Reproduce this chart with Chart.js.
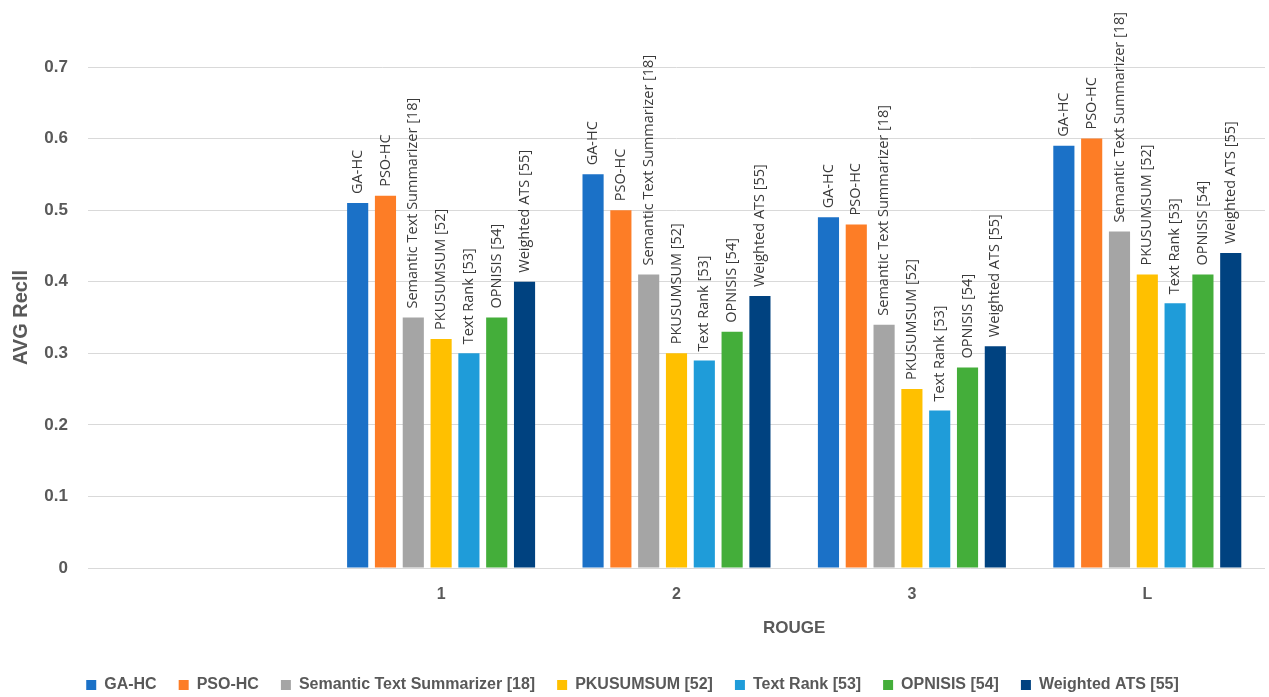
<!DOCTYPE html>
<html>
<head>
<meta charset="utf-8">
<title>AVG Recall by ROUGE</title>
<script src="https://cdn.jsdelivr.net/npm/chart.js@4.4.1/dist/chart.umd.min.js"></script>
<style>
    html, body { margin: 0; padding: 0; background: #ffffff; }
    #wrap { width: 1269px; height: 697px; }
</style>
</head>
<body>
<div id="wrap"><canvas id="recallChart" width="1269" height="697"></canvas></div>
<script>
// ROUGE variants (first slot is left empty on purpose)
const rougeLabels = ['', '1', '2', '3', 'L'];

const seriesNames = [
    'GA-HC',
    'PSO-HC',
    'Semantic Text Summarizer [18]',
    'PKUSUMSUM [52]',
    'Text Rank [53]',
    'OPNISIS [54]',
    'Weighted ATS [55]'
];

const gaHc       = [null, 0.51, 0.55, 0.49, 0.59];
const psoHc      = [null, 0.52, 0.50, 0.48, 0.60];
const semantic   = [null, 0.35, 0.41, 0.34, 0.47];
const pkusumsum  = [null, 0.32, 0.30, 0.25, 0.41];
const textRank   = [null, 0.30, 0.29, 0.22, 0.37];
const opnisis    = [null, 0.35, 0.33, 0.28, 0.41];
const weighted   = [null, 0.40, 0.38, 0.31, 0.44];

const yTicks = [0, 0.1, 0.2, 0.3, 0.4, 0.5, 0.6, 0.7];

const seriesValues = [gaHc, psoHc, semantic, pkusumsum, textRank, opnisis, weighted];
const seriesColors = ['#1B71C7', '#FD7D26', '#A5A5A5', '#FFC000', '#1F9CD9', '#44AE3A', '#004280'];

const axisGrey = '#595959';
const fontFamily = '"Liberation Sans", Arial, sans-serif';

// vertical series name above every bar
const barNamePlugin = {
    id: 'barNames',
    afterDatasetsDraw(chart) {
        const ctx = chart.ctx;
        ctx.save();
        ctx.font = '14.5px "Open Sans", sans-serif';
        ctx.fillStyle = '#3a3a3a';
        ctx.textAlign = 'left';
        ctx.textBaseline = 'middle';
        chart.data.datasets.forEach((ds, i) => {
            const meta = chart.getDatasetMeta(i);
            meta.data.forEach((bar, j) => {
                if (ds.data[j] === null) return;
                ctx.save();
                ctx.translate(bar.x, bar.y - 9);
                ctx.rotate(-Math.PI / 2);
                ctx.fillText(ds.label, 0, 0);
                ctx.restore();
            });
        });
        ctx.restore();
    }
};

// x axis title, centred under the filled categories only
const xTitlePlugin = {
    id: 'xTitle',
    afterDraw(chart) {
        const x = chart.scales.x;
        const first = x.getPixelForValue(1);
        const last = x.getPixelForValue(rougeLabels.length - 1);
        const ctx = chart.ctx;
        ctx.save();
        ctx.font = 'bold 17px ' + fontFamily;
        ctx.fillStyle = axisGrey;
        ctx.textAlign = 'center';
        ctx.textBaseline = 'middle';
        ctx.fillText('ROUGE', (first + last) / 2, x.bottom - 27);
        ctx.restore();
    }
};

const datasets = seriesNames.map((name, i) => ({
    label: name,
    data: seriesValues[i],
    backgroundColor: seriesColors[i],
    borderWidth: 0,
    barPercentage: 0.76,
    categoryPercentage: 0.827
}));

const ctx = document.getElementById('recallChart').getContext('2d');
const recallChart = new Chart(ctx, {
    type: 'bar',
    data: { labels: rougeLabels, datasets: datasets },
    plugins: [barNamePlugin, xTitlePlugin],
    options: {
        responsive: false,
        animation: false,
        layout: { padding: { top: 67, right: 4, left: 0, bottom: -6 } },
        plugins: {
            tooltip: { enabled: false },
            legend: {
                position: 'bottom',
                labels: {
                    boxWidth: 10,
                    boxHeight: 10,
                    padding: 22,
                    color: axisGrey,
                    font: { family: fontFamily, size: 16, weight: 'bold' }
                }
            }
        },
        scales: {
            x: {
                grid: { display: false, drawTicks: false },
                border: { display: false },
                ticks: {
                    color: axisGrey,
                    padding: 17,
                    font: { family: fontFamily, size: 16, weight: 'bold' }
                },
                afterFit(scale) { scale.height = 87; }
            },
            y: {
                min: 0,
                max: 0.7,
                afterBuildTicks(scale) {
                    scale.ticks = yTicks.map(v => ({ value: v }));
                },
                grid: { color: '#D9D9D9', lineWidth: 1, drawTicks: false },
                border: { display: false },
                ticks: {
                    color: axisGrey,
                    padding: 20,
                    font: { family: fontFamily, size: 17, weight: 'bold' },
                    callback: v => String(v)
                },
                title: {
                    display: true,
                    text: 'AVG Recll',
                    color: axisGrey,
                    padding: { top: 9, bottom: 0 },
                    font: { family: fontFamily, size: 20, weight: 'bold' }
                },
                afterFit(scale) { scale.width = 88; }
            }
        }
    }
});
</script>
</body>
</html>
